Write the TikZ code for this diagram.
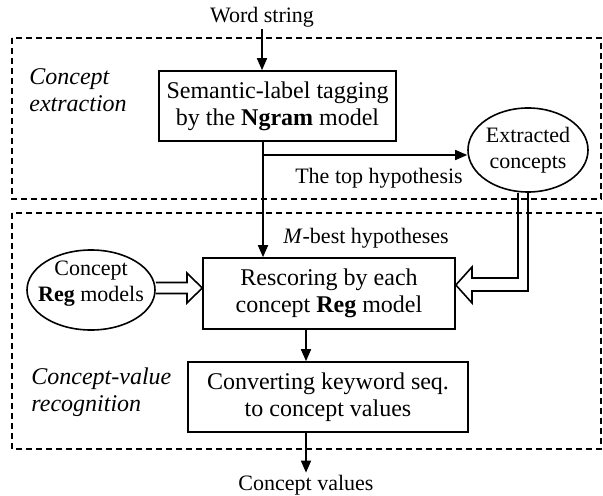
\documentclass[tikz,border=0pt]{standalone}
\usepackage{fontspec}
\setmainfont{Liberation Serif}
\usepackage{tikz}
\usetikzlibrary{arrows.meta,positioning,calc,shapes.geometric}

\begin{document}
\begin{tikzpicture}[x=.5pt,y=-.5pt,>={Triangle[length=6pt,width=5pt]},
  font=\fontsize{11}{13}\selectfont,
  box/.style={draw,line width=.8pt,align=center,inner sep=2pt,font=\fontsize{12}{13.5}\selectfont},
  blob/.style={draw,ellipse,line width=.8pt,inner sep=0pt},
  group/.style={line width=.7pt,dash pattern=on 3pt off 2pt},
  stage/.style={font=\fontsize{12}{13.5}\selectfont\itshape,align=left,anchor=west,inner sep=0pt},
  tag/.style={inner sep=1pt},
  flow/.style={->,line width=.8pt},
  hollow/.style={line width=.8pt,line join=miter}]
\useasboundingbox (0,0) rectangle (603,496);
\draw[group] (12,38) rectangle (601,199);
\draw[group] (12,213) rectangle (601,449);
\node[stage] (extract) at (29,90) {Concept\\extraction};
\node[stage] (recog) at (31,392) {Concept-value\\recognition};
\node[tag] (word) at (262,17) {Word string};
\node[box,minimum width=118.5pt,minimum height=35pt] (tagging) at (277.5,106) {Semantic-label tagging\\by the \textbf{Ngram} model};
\node[blob,align=center,minimum width=60pt,minimum height=42pt] (extracted) at (528,150) {Extracted\\concepts};
\node[tag] (top) at (379,178) {The top hypothesis};
\node[tag] (mbest) at (366,238) {\textit{M}-best hypotheses};
\node[blob,minimum width=64pt,minimum height=40pt,label={[align=center,inner sep=0pt,yshift=3pt]center:Concept\\\textbf{Reg} models}] (creg) at (91,290) {};
\node[box,minimum width=126pt,minimum height=35.5pt] (rescore) at (329,293.5) {Rescoring by each\\concept \textbf{Reg} model};
\node[box,minimum width=140pt,minimum height=35pt] (convert) at (328,397) {Converting keyword seq.\\to concept values};
\node[tag] (values) at (306,485) {Concept values};
\coordinate (fork) at (263,155);
\draw[flow] (word.south) -- (word.south |- tagging.north);
\draw[flow] (tagging.south -| fork) -- (rescore.north -| fork);
\draw[flow] (fork) -- (fork -| extracted.west);
\draw[flow] (rescore.south -| values) -- (convert.north -| values);
\draw[flow] (convert.south -| values) -- (values.north);
\draw[hollow] (creg.east |- 0,282.5) -- (187,282.5) -- (187,273) -- (rescore.west |- 0,288) -- (187,303) -- (187,293.5) -- (creg.east |- 0,293.5);
\draw[hollow] (extracted.south -| 518,0) -- (518,278) -- (472,278) -- (472,267) -- (rescore.east |- 0,285) -- (472,303) -- (472,291) -- (528,291) -- (extracted.south -| 528,0);
\end{tikzpicture}
\end{document}
